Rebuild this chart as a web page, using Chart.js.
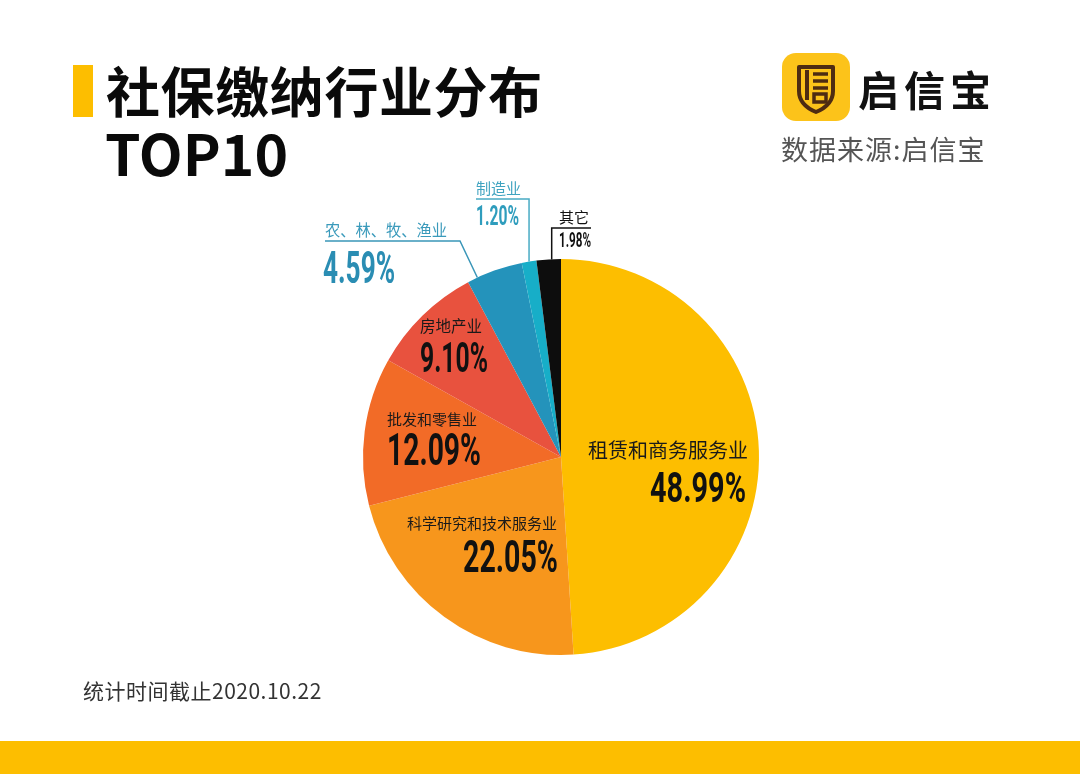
<!DOCTYPE html>
<html>
<head>
<meta charset="utf-8">
<script src="https://cdn.jsdelivr.net/npm/chart.js@4.4.1/dist/chart.umd.min.js"></script>
<style>
  html,body{margin:0;padding:0;background:#fff;}
  body{width:1080px;height:774px;position:relative;overflow:hidden;font-family:'Noto Sans CJK SC','Noto Sans',sans-serif;}
  .abs{position:absolute;white-space:nowrap;}
</style>
</head>
<body>
<canvas id="c" width="1080" height="774" style="position:absolute;left:0;top:0;width:1080px;height:774px"></canvas>

<div class="abs" style="left:73px;top:65px;width:20px;height:52px;background:#FDBE00"></div>
<div class="abs" style="left:106px;top:63px;font:700 54px/54px 'Noto Sans CJK SC';color:#0a0a0a;letter-spacing:0.6px">社保缴纳行业分布</div>
<div class="abs" style="left:105px;top:123px;font:700 57px/57px 'Noto Sans CJK SC';color:#0a0a0a">TOP10</div>

<svg class="abs" style="left:782px;top:53px" width="68" height="68" viewBox="0 0 68 68">
  <rect x="0" y="0" width="68" height="68" rx="14" fill="#FCC31A"/>
  <path d="M17 14 H51 V38 Q51 52 34 59 Q17 52 17 38 Z" fill="none" stroke="#4E2C12" stroke-width="4" stroke-linejoin="round"/>
  <line x1="25" y1="17" x2="25" y2="47" stroke="#4E2C12" stroke-width="4"/>
  <line x1="31" y1="21" x2="46" y2="21" stroke="#4E2C12" stroke-width="3.5"/>
  <line x1="31" y1="28" x2="46" y2="28" stroke="#4E2C12" stroke-width="3.5"/>
  <line x1="31" y1="35" x2="46" y2="35" stroke="#4E2C12" stroke-width="3.5"/>
  <rect x="32" y="41" width="12" height="8" fill="none" stroke="#4E2C12" stroke-width="3.5"/>
</svg>
<div class="abs" style="left:858px;top:64px;font:700 41px/48px 'Noto Sans CJK SC';color:#111;letter-spacing:5px">启信宝</div>
<div class="abs" style="left:781px;top:132px;font:400 27px/34px 'Noto Sans CJK SC';color:#555;letter-spacing:1px">数据来源:启信宝</div>

<div class="abs" style="left:83px;top:676px;font:400 21px/28px 'Noto Sans CJK SC';color:#333;letter-spacing:0.5px">统计时间截止2020.10.22</div>
<div class="abs" style="left:0;top:741px;width:1080px;height:33px;background:#FDBE00"></div>

<script>
// ---- data ----
const categories = ['租赁和商务服务业','科学研究和技术服务业','批发和零售业','房地产业','农、林、牧、渔业','制造业','其它'];
const shares = [48.99, 22.05, 12.09, 9.10, 4.59, 1.20, 1.98];
const valueLabels = ['48.99%','22.05%','12.09%','9.10%','4.59%','1.20%','1.98%'];
const sliceColors = ['#FDBE00','#F7961C','#F26B27','#E8523E','#2493BB','#17AEC8','#0d0d0d'];

// ---- label layout (offsets from pie centre, in px at radius 198; w = rendered width of the numeral) ----
const insideLayout = {
  0: {align:'right', nx:187, ny:1,   nSize:20, vx:185, vy:45,  vSize:42, w:96, nameColor:'#1a1a1a', valColor:'#111'},
  1: {align:'right', nx:-4,  ny:72,  nSize:15, vx:-3,  vy:115, vSize:44, w:95, nameColor:'#1a1a1a', valColor:'#111'},
  2: {align:'left',  nx:-174,ny:-32, nSize:15, vx:-174,vy:8,   vSize:45, w:94, nameColor:'#1a1a1a', valColor:'#111'},
  3: {align:'left',  nx:-141,ny:-125,nSize:15.5,vx:-141,vy:-85,vSize:42, w:68, nameColor:'#1a1a1a', valColor:'#111'}
};

function drawNum(ctx, text, x, y, size, align, color, targetW){
  ctx.save();
  ctx.font = '700 ' + size + 'px Roboto';
  ctx.fillStyle = color;
  ctx.textBaseline = 'alphabetic';
  ctx.textAlign = 'left';
  const raw = ctx.measureText(text).width;
  const sx = targetW / raw;
  const w = raw * sx;
  const left = align === 'right' ? x - w : (align === 'center' ? x - w/2 : x);
  ctx.translate(left, y);
  ctx.scale(sx, 1);
  ctx.fillText(text, 0, 0);
  ctx.restore();
}
function drawName(ctx, text, x, y, size, align, color, targetW){
  ctx.save();
  ctx.font = '400 ' + size + 'px "Noto Sans CJK SC"';
  ctx.fillStyle = color;
  ctx.textBaseline = 'alphabetic';
  if (targetW) {
    ctx.textAlign = 'left';
    const raw = ctx.measureText(text).width;
    const sx = targetW / raw;
    const left = align === 'right' ? x - targetW : x;
    ctx.translate(left, y);
    ctx.scale(sx, 1);
    ctx.fillText(text, 0, 0);
  } else {
    ctx.textAlign = align;
    ctx.fillText(text, x, y);
  }
  ctx.restore();
}

const labelPlugin = {
  id: 'pieLabels',
  afterDatasetsDraw(chart){
    const ctx = chart.ctx;
    const arcs = chart.getDatasetMeta(0).data;
    const a0 = arcs[0];
    const cx = a0.x, cy = a0.y, R = a0.outerRadius, k = R / 198;

    Object.keys(insideLayout).forEach(key => {
      const i = +key, L = insideLayout[i];
      drawName(ctx, categories[i], cx + L.nx*k, cy + L.ny*k, L.nSize, L.align, L.nameColor);
      drawNum(ctx, valueLabels[i], cx + L.vx*k, cy + L.vy*k, L.vSize, L.align, L.valColor, L.w*k);
    });

    ctx.save();
    // 农、林、牧、渔业 callout
    {
      const a = arcs[4];
      const ang = a.startAngle + 0.18*(a.endAngle - a.startAngle);
      const px = cx + R*Math.cos(ang), py = cy + R*Math.sin(ang);
      const ey = cy - 216*k, ex = cx - 101*k;
      ctx.strokeStyle = '#3a96b8'; ctx.lineWidth = 1.5;
      ctx.beginPath(); ctx.moveTo(px, py); ctx.lineTo(ex, ey); ctx.lineTo(cx - 236*k, ey); ctx.stroke();
      drawName(ctx, categories[4], cx - 236*k, cy - 221*k, 16, 'left', '#3a9abb', 122*k);
      drawNum(ctx, valueLabels[4], cx - 238*k, cy - 174*k, 45, 'left', '#2a8db3', 72*k);
    }
    // 制造业 callout
    {
      const a = arcs[5];
      const ang = (a.startAngle + a.endAngle)/2;
      const px = cx + R*Math.cos(ang), py = cy + R*Math.sin(ang);
      const ty = cy - 258*k;
      ctx.strokeStyle = '#48abc4'; ctx.lineWidth = 1.5;
      ctx.beginPath(); ctx.moveTo(px, py); ctx.lineTo(px, ty); ctx.lineTo(cx - 85*k, ty); ctx.stroke();
      drawName(ctx, categories[5], cx - 85*k, cy - 263*k, 15, 'left', '#3fa3c0');
      drawNum(ctx, valueLabels[5], cx - 85*k, cy - 232*k, 28, 'left', '#2f9dbd', 43*k);
    }
    // 其它 callout
    {
      const a = arcs[6];
      const ang = (a.startAngle + a.endAngle)/2;
      const px = cx + R*Math.cos(ang) + 3*k, py = cy + R*Math.sin(ang);
      const ty = cy - 229*k;
      ctx.strokeStyle = '#111'; ctx.lineWidth = 1.5;
      ctx.beginPath(); ctx.moveTo(px, py); ctx.lineTo(px, ty); ctx.lineTo(cx + 30*k, ty); ctx.stroke();
      drawName(ctx, categories[6], cx - 2*k, cy - 234*k, 15, 'left', '#111');
      drawNum(ctx, valueLabels[6], cx - 2*k, cy - 210*k, 20, 'left', '#111', 32*k);
    }
    ctx.restore();
  }
};

new Chart(document.getElementById('c'), {
  type: 'pie',
  data: {
    labels: categories,
    datasets: [{
      data: shares,
      backgroundColor: sliceColors,
      borderWidth: 0
    }]
  },
  options: {
    responsive: false,
    animation: false,
    devicePixelRatio: 1,
    layout: { padding: { left: 363, right: 321, top: 259, bottom: 119 } },
    plugins: { legend: { display: false }, tooltip: { enabled: false }, title: { display: false } }
  },
  plugins: [labelPlugin]
});
</script>
</body>
</html>
